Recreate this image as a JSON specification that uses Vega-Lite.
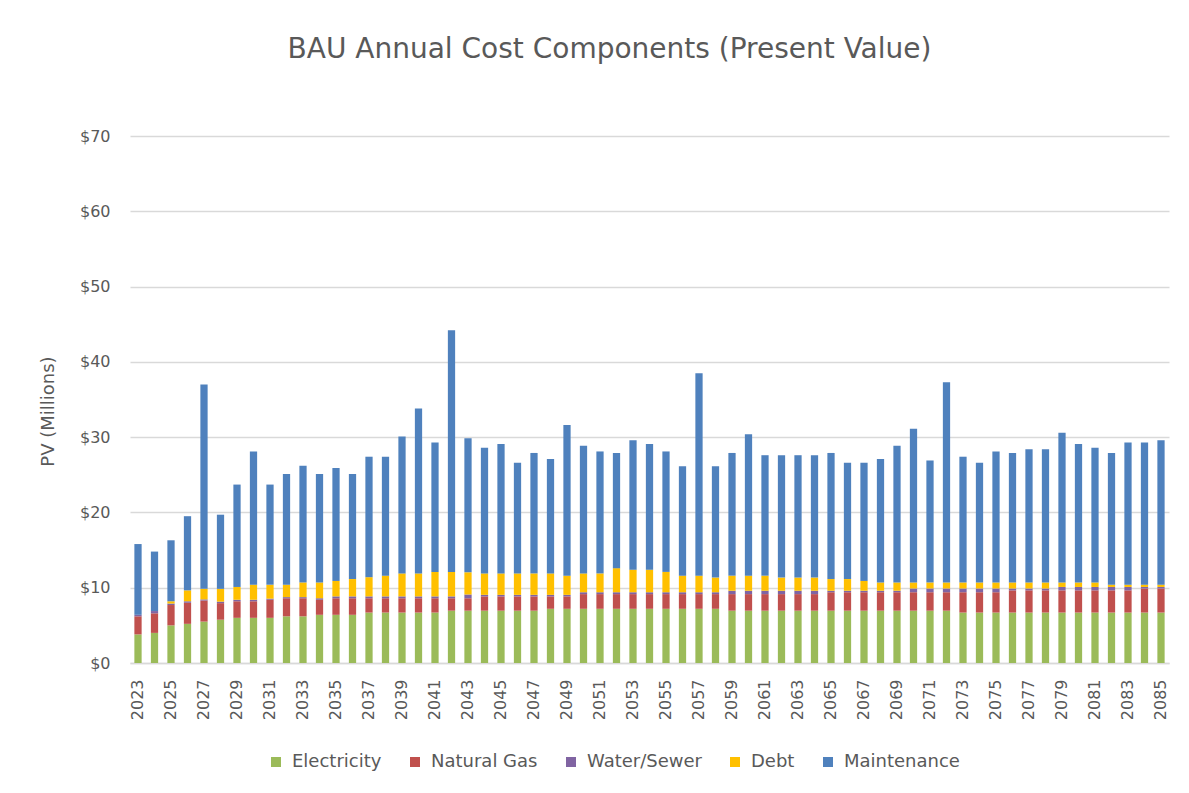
{
  "$schema": "https://vega.github.io/schema/vega-lite/v6.json",
  "autosize": {"type": "none"},
  "width": 1039,
  "height": 527,
  "padding": {"left": 130, "top": 136, "right": 20, "bottom": 130},
  "background": "white",
  "title": {
    "text": "BAU Annual Cost Components (Present Value)",
    "font": "DejaVu Sans",
    "fontSize": 28,
    "fontWeight": "normal",
    "color": "#595959",
    "anchor": "middle",
    "baseline": "alphabetic",
    "offset": 42,
    "dx": -40
  },
  "datasets": {
    "order": [
      {"Component": "Electricity", "rank": 1},
      {"Component": "Natural Gas", "rank": 2},
      {"Component": "Water/Sewer", "rank": 3},
      {"Component": "Debt", "rank": 4},
      {"Component": "Maintenance", "rank": 5}
    ]
  },
  "data": {
    "values": [
      {"Year": 2023, "Electricity": 3.8, "Natural Gas": 2.4, "Water/Sewer": 0.2, "Debt": 0, "Maintenance": 9.4},
      {"Year": 2024, "Electricity": 4.0, "Natural Gas": 2.6, "Water/Sewer": 0.3, "Debt": 0, "Maintenance": 7.9},
      {"Year": 2025, "Electricity": 5.0, "Natural Gas": 2.7, "Water/Sewer": 0.2, "Debt": 0.3, "Maintenance": 8.1},
      {"Year": 2026, "Electricity": 5.2, "Natural Gas": 2.8, "Water/Sewer": 0.2, "Debt": 1.45, "Maintenance": 9.85},
      {"Year": 2027, "Electricity": 5.5, "Natural Gas": 2.8, "Water/Sewer": 0.15, "Debt": 1.4, "Maintenance": 27.15},
      {"Year": 2028, "Electricity": 5.75, "Natural Gas": 2.2, "Water/Sewer": 0.2, "Debt": 1.7, "Maintenance": 9.85},
      {"Year": 2029, "Electricity": 6.0, "Natural Gas": 2.2, "Water/Sewer": 0.2, "Debt": 1.7, "Maintenance": 13.6},
      {"Year": 2030, "Electricity": 6.0, "Natural Gas": 2.2, "Water/Sewer": 0.2, "Debt": 2.0, "Maintenance": 17.7},
      {"Year": 2031, "Electricity": 6.0, "Natural Gas": 2.4, "Water/Sewer": 0.15, "Debt": 1.85, "Maintenance": 13.3},
      {"Year": 2032, "Electricity": 6.2, "Natural Gas": 2.4, "Water/Sewer": 0.15, "Debt": 1.65, "Maintenance": 14.7},
      {"Year": 2033, "Electricity": 6.2, "Natural Gas": 2.4, "Water/Sewer": 0.15, "Debt": 1.95, "Maintenance": 15.5},
      {"Year": 2034, "Electricity": 6.4, "Natural Gas": 2.0, "Water/Sewer": 0.2, "Debt": 2.1, "Maintenance": 14.4},
      {"Year": 2035, "Electricity": 6.4, "Natural Gas": 2.2, "Water/Sewer": 0.25, "Debt": 2.05, "Maintenance": 15.0},
      {"Year": 2036, "Electricity": 6.4, "Natural Gas": 2.2, "Water/Sewer": 0.25, "Debt": 2.3, "Maintenance": 13.95},
      {"Year": 2037, "Electricity": 6.7, "Natural Gas": 1.9, "Water/Sewer": 0.25, "Debt": 2.55, "Maintenance": 16.0},
      {"Year": 2038, "Electricity": 6.7, "Natural Gas": 1.9, "Water/Sewer": 0.25, "Debt": 2.75, "Maintenance": 15.8},
      {"Year": 2039, "Electricity": 6.7, "Natural Gas": 1.9, "Water/Sewer": 0.25, "Debt": 3.05, "Maintenance": 18.2},
      {"Year": 2040, "Electricity": 6.7, "Natural Gas": 1.9, "Water/Sewer": 0.25, "Debt": 3.05, "Maintenance": 21.9},
      {"Year": 2041, "Electricity": 6.7, "Natural Gas": 1.9, "Water/Sewer": 0.25, "Debt": 3.25, "Maintenance": 17.2},
      {"Year": 2042, "Electricity": 6.95, "Natural Gas": 1.65, "Water/Sewer": 0.25, "Debt": 3.25, "Maintenance": 32.1},
      {"Year": 2043, "Electricity": 6.95, "Natural Gas": 1.65, "Water/Sewer": 0.5, "Debt": 2.95, "Maintenance": 17.8},
      {"Year": 2044, "Electricity": 6.95, "Natural Gas": 1.9, "Water/Sewer": 0.2, "Debt": 2.85, "Maintenance": 16.7},
      {"Year": 2045, "Electricity": 6.95, "Natural Gas": 1.9, "Water/Sewer": 0.2, "Debt": 2.85, "Maintenance": 17.2},
      {"Year": 2046, "Electricity": 6.95, "Natural Gas": 1.9, "Water/Sewer": 0.2, "Debt": 2.85, "Maintenance": 14.7},
      {"Year": 2047, "Electricity": 6.95, "Natural Gas": 1.9, "Water/Sewer": 0.2, "Debt": 2.85, "Maintenance": 16.0},
      {"Year": 2048, "Electricity": 7.2, "Natural Gas": 1.65, "Water/Sewer": 0.2, "Debt": 2.85, "Maintenance": 15.2},
      {"Year": 2049, "Electricity": 7.2, "Natural Gas": 1.65, "Water/Sewer": 0.2, "Debt": 2.55, "Maintenance": 20.0},
      {"Year": 2050, "Electricity": 7.2, "Natural Gas": 1.95, "Water/Sewer": 0.25, "Debt": 2.5, "Maintenance": 16.95},
      {"Year": 2051, "Electricity": 7.2, "Natural Gas": 1.95, "Water/Sewer": 0.25, "Debt": 2.5, "Maintenance": 16.2},
      {"Year": 2052, "Electricity": 7.2, "Natural Gas": 1.95, "Water/Sewer": 0.25, "Debt": 3.2, "Maintenance": 15.3},
      {"Year": 2053, "Electricity": 7.2, "Natural Gas": 1.95, "Water/Sewer": 0.25, "Debt": 3.0, "Maintenance": 17.2},
      {"Year": 2054, "Electricity": 7.2, "Natural Gas": 1.95, "Water/Sewer": 0.25, "Debt": 3.0, "Maintenance": 16.7},
      {"Year": 2055, "Electricity": 7.2, "Natural Gas": 1.95, "Water/Sewer": 0.25, "Debt": 2.7, "Maintenance": 16.0},
      {"Year": 2056, "Electricity": 7.2, "Natural Gas": 1.95, "Water/Sewer": 0.25, "Debt": 2.2, "Maintenance": 14.55},
      {"Year": 2057, "Electricity": 7.2, "Natural Gas": 1.95, "Water/Sewer": 0.25, "Debt": 2.2, "Maintenance": 26.9},
      {"Year": 2058, "Electricity": 7.2, "Natural Gas": 1.95, "Water/Sewer": 0.25, "Debt": 1.95, "Maintenance": 14.8},
      {"Year": 2059, "Electricity": 6.95, "Natural Gas": 2.2, "Water/Sewer": 0.45, "Debt": 2.0, "Maintenance": 16.3},
      {"Year": 2060, "Electricity": 6.95, "Natural Gas": 2.2, "Water/Sewer": 0.45, "Debt": 2.0, "Maintenance": 18.8},
      {"Year": 2061, "Electricity": 6.95, "Natural Gas": 2.2, "Water/Sewer": 0.45, "Debt": 2.0, "Maintenance": 16.0},
      {"Year": 2062, "Electricity": 6.95, "Natural Gas": 2.2, "Water/Sewer": 0.45, "Debt": 1.75, "Maintenance": 16.25},
      {"Year": 2063, "Electricity": 6.95, "Natural Gas": 2.2, "Water/Sewer": 0.45, "Debt": 1.75, "Maintenance": 16.25},
      {"Year": 2064, "Electricity": 6.95, "Natural Gas": 2.2, "Water/Sewer": 0.45, "Debt": 1.75, "Maintenance": 16.25},
      {"Year": 2065, "Electricity": 6.95, "Natural Gas": 2.45, "Water/Sewer": 0.2, "Debt": 1.55, "Maintenance": 16.75},
      {"Year": 2066, "Electricity": 6.95, "Natural Gas": 2.45, "Water/Sewer": 0.2, "Debt": 1.55, "Maintenance": 15.45},
      {"Year": 2067, "Electricity": 6.95, "Natural Gas": 2.45, "Water/Sewer": 0.2, "Debt": 1.3, "Maintenance": 15.7},
      {"Year": 2068, "Electricity": 6.95, "Natural Gas": 2.45, "Water/Sewer": 0.2, "Debt": 1.1, "Maintenance": 16.4},
      {"Year": 2069, "Electricity": 6.95, "Natural Gas": 2.45, "Water/Sewer": 0.2, "Debt": 1.1, "Maintenance": 18.15},
      {"Year": 2070, "Electricity": 6.95, "Natural Gas": 2.45, "Water/Sewer": 0.5, "Debt": 0.8, "Maintenance": 20.4},
      {"Year": 2071, "Electricity": 6.95, "Natural Gas": 2.45, "Water/Sewer": 0.5, "Debt": 0.8, "Maintenance": 16.2},
      {"Year": 2072, "Electricity": 6.95, "Natural Gas": 2.45, "Water/Sewer": 0.5, "Debt": 0.8, "Maintenance": 26.6},
      {"Year": 2073, "Electricity": 6.7, "Natural Gas": 2.7, "Water/Sewer": 0.5, "Debt": 0.8, "Maintenance": 16.7},
      {"Year": 2074, "Electricity": 6.7, "Natural Gas": 2.7, "Water/Sewer": 0.5, "Debt": 0.8, "Maintenance": 15.9},
      {"Year": 2075, "Electricity": 6.7, "Natural Gas": 2.7, "Water/Sewer": 0.5, "Debt": 0.8, "Maintenance": 17.4},
      {"Year": 2076, "Electricity": 6.7, "Natural Gas": 2.95, "Water/Sewer": 0.25, "Debt": 0.8, "Maintenance": 17.2},
      {"Year": 2077, "Electricity": 6.7, "Natural Gas": 2.95, "Water/Sewer": 0.25, "Debt": 0.8, "Maintenance": 17.7},
      {"Year": 2078, "Electricity": 6.7, "Natural Gas": 2.95, "Water/Sewer": 0.25, "Debt": 0.8, "Maintenance": 17.7},
      {"Year": 2079, "Electricity": 6.7, "Natural Gas": 2.95, "Water/Sewer": 0.45, "Debt": 0.6, "Maintenance": 19.9},
      {"Year": 2080, "Electricity": 6.7, "Natural Gas": 2.95, "Water/Sewer": 0.45, "Debt": 0.6, "Maintenance": 18.4},
      {"Year": 2081, "Electricity": 6.7, "Natural Gas": 2.95, "Water/Sewer": 0.45, "Debt": 0.6, "Maintenance": 17.9},
      {"Year": 2082, "Electricity": 6.7, "Natural Gas": 2.95, "Water/Sewer": 0.45, "Debt": 0.3, "Maintenance": 17.5},
      {"Year": 2083, "Electricity": 6.7, "Natural Gas": 2.95, "Water/Sewer": 0.45, "Debt": 0.3, "Maintenance": 18.9},
      {"Year": 2084, "Electricity": 6.7, "Natural Gas": 3.2, "Water/Sewer": 0.2, "Debt": 0.3, "Maintenance": 18.9},
      {"Year": 2085, "Electricity": 6.7, "Natural Gas": 3.2, "Water/Sewer": 0.2, "Debt": 0.3, "Maintenance": 19.2}
    ]
  },
  "transform": [
    {"fold": ["Electricity", "Natural Gas", "Water/Sewer", "Debt", "Maintenance"], "as": ["Component", "Value"]},
    {"lookup": "Component", "from": {"data": {"name": "order"}, "key": "Component", "fields": ["rank"]}}
  ],
  "mark": {"type": "bar"},
  "encoding": {
    "x": {
      "field": "Year",
      "type": "ordinal",
      "scale": {"paddingInner": 0.56, "paddingOuter": 0.265},
      "axis": {
        "title": null,
        "values": [2023, 2025, 2027, 2029, 2031, 2033, 2035, 2037, 2039, 2041, 2043, 2045, 2047, 2049, 2051, 2053, 2055, 2057, 2059, 2061, 2063, 2065, 2067, 2069, 2071, 2073, 2075, 2077, 2079, 2081, 2083, 2085],
        "labelAngle": -90,
        "labelAlign": "right",
        "labelBaseline": "middle",
        "labelFont": "DejaVu Sans",
        "labelFontSize": 16,
        "labelColor": "#595959",
        "labelPadding": 16,
        "ticks": false,
        "domainColor": "#d9d9d9",
        "domainWidth": 1.5
      }
    },
    "y": {
      "field": "Value",
      "type": "quantitative",
      "stack": "zero",
      "scale": {"domain": [0, 70]},
      "axis": {
        "values": [0, 10, 20, 30, 40, 50, 60, 70],
        "format": "$.0f",
        "grid": true,
        "gridColor": "#d9d9d9",
        "gridWidth": 1.5,
        "domain": false,
        "ticks": false,
        "labelFont": "DejaVu Sans",
        "labelFontSize": 16,
        "labelColor": "#595959",
        "labelPadding": 20,
        "title": "PV (Millions)",
        "titleFont": "DejaVu Sans",
        "titleFontSize": 18,
        "titleFontWeight": "normal",
        "titleColor": "#595959",
        "titleAngle": -90,
        "titleX": -82,
        "titleY": 275,
        "titleAlign": "center",
        "titleBaseline": "middle"
      }
    },
    "order": {"field": "rank", "type": "quantitative", "sort": "ascending"},
    "color": {
      "field": "Component",
      "type": "nominal",
      "sort": ["Electricity", "Natural Gas", "Water/Sewer", "Debt", "Maintenance"],
      "scale": {
        "domain": ["Electricity", "Natural Gas", "Water/Sewer", "Debt", "Maintenance"],
        "range": ["#9BBB59", "#C0504D", "#8064A2", "#FFC000", "#4F81BD"]
      },
      "legend": {
        "title": null,
        "orient": "none",
        "direction": "horizontal",
        "legendX": 137,
        "legendY": 617,
        "symbolType": "square",
        "symbolSize": 100,
        "symbolStrokeWidth": 0,
        "labelFont": "DejaVu Sans",
        "labelFontSize": 18,
        "labelColor": "#595959",
        "labelOffset": 7,
        "columnPadding": 24
      }
    }
  },
  "config": {"view": {"stroke": null}}
}
